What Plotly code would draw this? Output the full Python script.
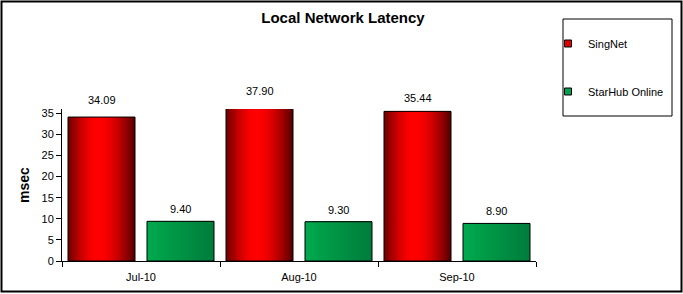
import math
import plotly.graph_objects as go

# ---------------- data ----------------
categories = ["Jul-10", "Aug-10", "Sep-10"]
singnet = [34.09, 37.90, 35.44]
starhub = [9.40, 9.30, 8.90]
series_names = ["SingNet", "StarHub Online"]
y_ticks = [0, 5, 10, 15, 20, 25, 30, 35]

# ---------------- style ----------------
W, H = 683, 294
ML, MR, MT, MB = 62, 147, 109, 33
PW, PH = W - ML - MR, H - MT - MB
FONT = "Liberation Sans, Arial, sans-serif"
Y_MAX = 36
BAR_W = 0.424
OFFSETS = [-0.462, 0.038]
LABEL_XSHIFT = [-39.5, 39.5]
LABEL_YSHIFT = [[17, 10, 13], [12, 12, 12]]
N_STRIPS = 40


def px_x(px):
    return (px - ML) / PW


def px_y(py):
    return (H - MB - py) / PH


def red_at(t):
    if t < 0.45:
        v = 0.42 + 0.58 * math.sin(t / 0.45 * math.pi / 2)
    else:
        v = 0.33 + 0.67 * math.cos((t - 0.45) / 0.55 * math.pi / 2)
    return "rgb(%d,0,0)" % round(255 * v)


def green_at(t):
    g = 0xAA + (0x7C - 0xAA) * t
    b = 0x4E + (0x3C - 0x4E) * t
    return "rgb(0,%d,%d)" % (round(g), round(b))


fig = go.Figure()
series = [singnet, starhub]
color_fns = [red_at, green_at]
legend_colors = ["#E00000", "#00A050"]

for s, vals in enumerate(series):
    # base bar
    fig.add_trace(go.Bar(
        x=categories, y=vals, offset=OFFSETS[s], width=BAR_W,
        marker=dict(color=legend_colors[s], line=dict(width=0)),
        showlegend=False, hoverinfo="skip"))
    # gradient strips
    for k in range(N_STRIPS):
        t = (k + 0.5) / N_STRIPS
        fig.add_trace(go.Bar(
            x=categories, y=vals,
            offset=OFFSETS[s] + k * BAR_W / N_STRIPS,
            width=BAR_W - k * BAR_W / N_STRIPS,
            marker=dict(color=color_fns[s](t), line=dict(width=0)),
            showlegend=False, hoverinfo="skip"))
    # outline
    fig.add_trace(go.Bar(
        x=categories, y=vals, offset=OFFSETS[s], width=BAR_W,
        marker=dict(color="rgba(0,0,0,0)", line=dict(color="black", width=1)),
        showlegend=False, hoverinfo="skip"))
    # legend proxy
    fig.add_trace(go.Scatter(
        x=[None], y=[None], mode="markers", name=series_names[s],
        legendgroup=series_names[s],
        marker=dict(symbol="square", size=7, color=legend_colors[s],
                    line=dict(color="black", width=1))))

annotations = []
for s, vals in enumerate(series):
    for i, (c, v) in enumerate(zip(categories, vals)):
        annotations.append(dict(
            x=c, y=v / Y_MAX, xref="x", yref="paper", text="%.2f" % v, showarrow=False,
            xshift=LABEL_XSHIFT[s], yshift=LABEL_YSHIFT[s][i], yanchor="middle",
            font=dict(family=FONT, size=11, color="black")))

shapes = [
    dict(type="rect", xref="paper", yref="paper",
         x0=px_x(563), x1=px_x(672), y0=px_y(116), y1=px_y(19),
         line=dict(color="black", width=1), fillcolor="rgba(0,0,0,0)"),
    dict(type="rect", xref="paper", yref="paper",
         x0=px_x(1.5), x1=px_x(681.5), y0=px_y(291.5), y1=px_y(1.5),
         line=dict(color="black", width=2), fillcolor="rgba(0,0,0,0)"),
]

fig.update_layout(
    width=W, height=H,
    margin=dict(l=ML, r=MR, t=MT, b=MB, autoexpand=False),
    paper_bgcolor="white", plot_bgcolor="white",
    barmode="overlay",
    font=dict(family=FONT, size=11, color="black"),
    title=dict(text="<b>Local Network Latency</b>", x=343 / W, xref="container",
               xanchor="center", y=1 - 18 / H, yref="container", yanchor="middle",
               font=dict(family=FONT, size=15, color="black")),
    xaxis=dict(type="category", range=[-0.5, 2.5], showline=True, linecolor="black",
               linewidth=1, ticks="outside", tickson="boundaries", ticklen=5,
               tickcolor="black", showgrid=False, zeroline=False,
               ticklabelstandoff=6, tickfont=dict(family=FONT, size=11, color="black")),
    yaxis=dict(range=[0, Y_MAX], tickvals=y_ticks, showline=True, linecolor="black",
               linewidth=1, ticks="outside", ticklen=5, tickcolor="black",
               showgrid=False, zeroline=False,
               tickfont=dict(family=FONT, size=11, color="black"),
               title=dict(text="<b>msec</b>", standoff=8,
                          font=dict(family=FONT, size=14, color="black"))),
    showlegend=True,
    legend=dict(x=px_x(548), y=px_y(29), xanchor="left", yanchor="top",
                traceorder="grouped", tracegroupgap=29, itemwidth=30,
                bgcolor="rgba(0,0,0,0)", borderwidth=0,
                font=dict(family=FONT, size=11, color="black")),
    annotations=annotations,
    shapes=shapes,
)

fig.write_html("out.html")
